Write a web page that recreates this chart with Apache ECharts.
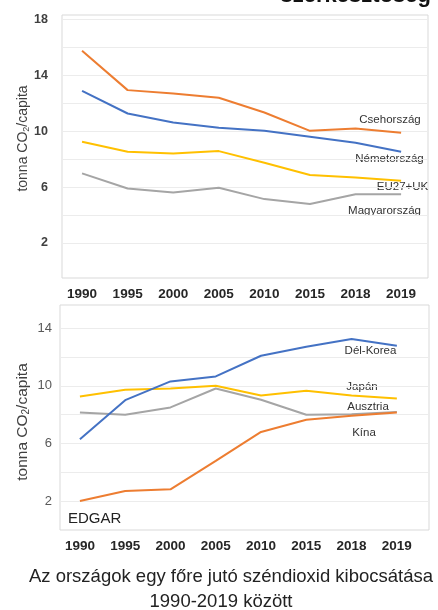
<!DOCTYPE html>
<html>
<head>
<meta charset="utf-8">
<script src="https://cdn.jsdelivr.net/npm/echarts@6/dist/echarts.min.js"></script>
<style>
  html, body { margin: 0; padding: 0; background: #fff; }
  #container { width: 438px; height: 610px; }
</style>
</head>
<body>
<div id="container"></div>
<script>
// évek (x tengely)
const years = ['1990', '1995', '2000', '2005', '2010', '2015', '2018', '2019'];

// felső ábra: Európa
const csehorszag = [15.74, 12.93, 12.69, 12.38, 11.33, 10.02, 10.19, 9.88];
const nemetorszag = [12.88, 11.26, 10.62, 10.24, 10.02, 9.60, 9.17, 8.52];
const eu27uk = [9.24, 8.52, 8.40, 8.57, 7.74, 6.86, 6.69, 6.45];
const magyarorszag = [6.98, 5.90, 5.62, 5.95, 5.14, 4.79, 5.48, 5.48];

// alsó ábra: Ázsia + Ausztria
const delKorea = [6.30, 9.00, 10.30, 10.65, 12.08, 12.70, 13.24, 12.78];
const japan = [9.26, 9.72, 9.81, 10.00, 9.33, 9.65, 9.33, 9.12];
const ausztria = [8.15, 7.99, 8.50, 9.81, 9.03, 7.99, 8.03, 8.19];
const kina = [2.01, 2.71, 2.82, 4.79, 6.80, 7.64, 7.92, 8.15];

// tengely beosztások
const topGridTicks = [2, 4, 6, 8, 10, 12, 14, 16, 18];
const topLabelTicks = [2, 6, 10, 14, 18];
const bottomGridTicks = [2, 4, 6, 8, 10, 12, 14];
const bottomLabelTicks = [2, 6, 10, 14];

const ORANGE = '#ED7D31', BLUE = '#4472C4', YELLOW = '#FFC000', GRAY = '#A5A5A5';
const FONT = 'Liberation Sans, Arial, sans-serif';

window.onload = function () {
    const dom = document.getElementById('container');
    const myChart = echarts.init(dom, null, { renderer: 'canvas' });

    const toPairs = arr => arr.map((v, i) => [i, v]);

    function xAxisFor(gridIndex, min, max) {
        return {
            type: 'value',
            gridIndex: gridIndex,
            min: min,
            max: max,
            axisLine: { show: false },
            axisTick: { show: false, customValues: years.map((y, i) => i) },
            splitLine: { show: false },
            axisLabel: {
                customValues: years.map((y, i) => i),
                formatter: v => years[Math.round(v)],
                color: '#262626',
                fontFamily: FONT,
                fontSize: 13.5,
                fontWeight: 'bold',
                margin: 9
            }
        };
    }

    // padding eltolja a forgatott feliratot függőlegesen
    function yName(size, sub, pad) {
        return {
            name: '{a|tonna CO}{s|2}{a|/capita}',
            nameLocation: 'middle',
            nameRotate: 90,
            nameMoveOverlap: false,
            nameTextStyle: {
                padding: pad,
                rich: {
                    a: { fontFamily: FONT, fontSize: size, color: '#404040' },
                    s: { fontFamily: FONT, fontSize: sub, color: '#404040', verticalAlign: 'bottom', padding: [7, 0, 0, 0] }
                }
            }
        };
    }

    function lineSeries(name, data, color, idx) {
        return {
            name: name,
            type: 'line',
            xAxisIndex: idx,
            yAxisIndex: idx,
            data: toPairs(data),
            symbol: 'none',
            smooth: false,
            lineStyle: { color: color, width: 2 },
            itemStyle: { color: color },
            z: 3
        };
    }

    const lbl = (x, y, text) => ({
        type: 'text',
        x: x, y: y,
        style: { text: text, fill: '#333', font: '11.5px ' + FONT, align: 'center', verticalAlign: 'middle' }
    });

    const option = {
        animation: false,
        backgroundColor: '#fff',
        grid: [
            { left: 62, top: 15, width: 366, height: 263, show: true, borderColor: '#d9d9d9', borderWidth: 1, containLabel: false },
            { left: 60, top: 305, width: 369, height: 225, show: true, borderColor: '#d9d9d9', borderWidth: 1, containLabel: false }
        ],
        xAxis: [
            xAxisFor(0, -0.44, 7.59),
            xAxisFor(1, -0.44, 7.71)
        ],
        yAxis: [
            Object.assign({
                type: 'value',
                gridIndex: 0,
                min: -0.5,
                max: 18.3,
                nameGap: 31,
                axisLine: { show: false },
                axisTick: { show: false, customValues: topGridTicks },
                splitLine: { show: true, lineStyle: { color: '#ececec', width: 1 } },
                axisLabel: {
                    customValues: topLabelTicks,
                    color: '#404040',
                    fontFamily: FONT,
                    fontSize: 12.5,
                    fontWeight: 'bold',
                    margin: 14
                }
            }, yName(14, 9, [0, 0, 0, 16])),
            Object.assign({
                type: 'value',
                gridIndex: 1,
                min: 0,
                max: 15.6,
                nameGap: 29,
                axisLine: { show: false },
                axisTick: { show: false, customValues: bottomGridTicks },
                splitLine: { show: true, lineStyle: { color: '#ececec', width: 1 } },
                axisLabel: {
                    customValues: bottomLabelTicks,
                    color: '#595959',
                    fontFamily: FONT,
                    fontSize: 13,
                    margin: 8
                }
            }, yName(15.5, 10, [0, 9, 0, 0]))
        ],
        series: [
            lineSeries('Magyarország', magyarorszag, GRAY, 0),
            lineSeries('EU27+UK', eu27uk, YELLOW, 0),
            lineSeries('Németország', nemetorszag, BLUE, 0),
            lineSeries('Csehország', csehorszag, ORANGE, 0),
            lineSeries('Ausztria', ausztria, GRAY, 1),
            lineSeries('Kína', kina, ORANGE, 1),
            lineSeries('Japán', japan, YELLOW, 1),
            lineSeries('Dél-Korea', delKorea, BLUE, 1)
        ],
        graphic: [
            {
                type: 'text', x: 431, y: 7,
                style: { text: 'szerkesztőség', fill: '#111', font: 'bold 22px ' + FONT, align: 'right', verticalAlign: 'bottom' }
            },
            lbl(390, 120, 'Csehország'),
            lbl(389.5, 159, 'Németország'),
            lbl(402.5, 187, 'EU27+UK'),
            lbl(384.5, 211, 'Magyarország'),
            lbl(370.5, 351, 'Dél-Korea'),
            lbl(362, 387, 'Japán'),
            lbl(368, 407, 'Ausztria'),
            lbl(364, 433, 'Kína'),
            {
                type: 'text', x: 68, y: 519,
                style: { text: 'EDGAR', fill: '#222', font: '15px ' + FONT, verticalAlign: 'middle' }
            },
            {
                type: 'text', x: 231, y: 577,
                style: { text: 'Az országok egy főre jutó széndioxid kibocsátása', fill: '#222', font: '18.5px ' + FONT, align: 'center', verticalAlign: 'middle' }
            },
            {
                type: 'text', x: 221, y: 602,
                style: { text: '1990-2019 között', fill: '#222', font: '18.5px ' + FONT, align: 'center', verticalAlign: 'middle' }
            }
        ]
    };

    myChart.setOption(option);
};
</script>
</body>
</html>
